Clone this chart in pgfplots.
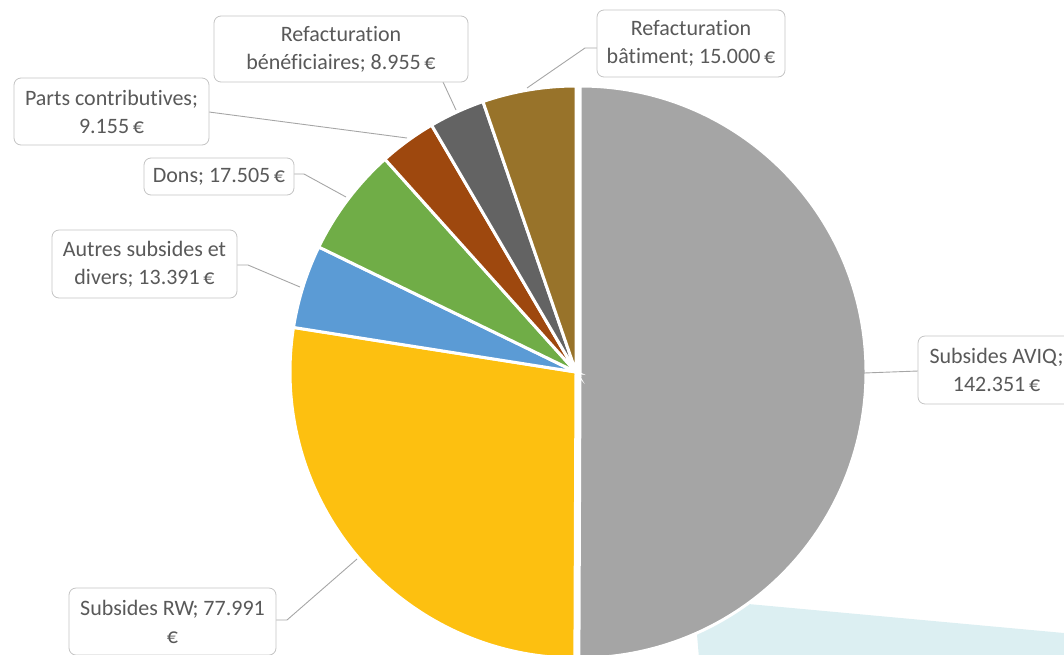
\documentclass[border=0pt]{standalone}
\usepackage{fontspec}
\setmainfont{Carlito}[Ligatures={NoCommon}]
\usepackage{pgfplots}
\usepackage{pgfplotstable}
\pgfplotsset{compat=1.18}

\definecolor{cAVIQ}{HTML}{A5A5A5}
\definecolor{cRW}{HTML}{FDC010}
\definecolor{cAutres}{HTML}{5B9BD5}
\definecolor{cDons}{HTML}{70AD47}
\definecolor{cParts}{HTML}{9E480E}
\definecolor{cRefBen}{HTML}{636363}
\definecolor{cRefBat}{HTML}{98732A}
\definecolor{txtc}{HTML}{595959}
\definecolor{boxc}{HTML}{C4C4C4}
\definecolor{leadc}{HTML}{A6A6A6}
\definecolor{decor}{HTML}{DCEFF2}

% values in thousands of euros, clockwise from 12 o'clock
\pgfplotstableread{
name value
AVIQ 142.351
RW 77.991
Autres 13.391
Dons 17.505
Parts 9.155
RefBen 8.955
RefBat 15.000
}\piedata

\pgfplotstablegetelem{0}{value}\of\piedata \let\vA\pgfplotsretval
\pgfplotstablegetelem{1}{value}\of\piedata \let\vB\pgfplotsretval
\pgfplotstablegetelem{2}{value}\of\piedata \let\vC\pgfplotsretval
\pgfplotstablegetelem{3}{value}\of\piedata \let\vD\pgfplotsretval
\pgfplotstablegetelem{4}{value}\of\piedata \let\vE\pgfplotsretval
\pgfplotstablegetelem{5}{value}\of\piedata \let\vF\pgfplotsretval
\pgfplotstablegetelem{6}{value}\of\piedata \let\vG\pgfplotsretval
\pgfmathsetmacro\tot{\vA+\vB+\vC+\vD+\vE+\vF+\vG}
\pgfmathsetmacro\aA{90}
\pgfmathsetmacro\aB{\aA-\vA/\tot*360}
\pgfmathsetmacro\aC{\aB-\vB/\tot*360}
\pgfmathsetmacro\aD{\aC-\vC/\tot*360}
\pgfmathsetmacro\aE{\aD-\vD/\tot*360}
\pgfmathsetmacro\aF{\aE-\vE/\tot*360}
\pgfmathsetmacro\aG{\aF-\vF/\tot*360}
\pgfmathsetmacro\aH{\aG-\vG/\tot*360}
\def\R{286pt}

\newcommand\lblfont{\fontsize{22}{28}\selectfont}
\tikzset{lbl/.style={draw=boxc, line width=0.8pt, fill=white, rounded corners=7pt,
  align=center, text=txtc, inner xsep=6pt, inner ysep=4pt, font=\lblfont}}

\begin{document}%
\begin{tikzpicture}
\useasboundingbox (0,0) rectangle (1064pt,654pt);
\begin{axis}[at={(0,0)}, anchor=south west, scale only axis,
  width=1064pt, height=654pt, xmin=0, xmax=1064, ymin=0, ymax=654,
  y dir=reverse, hide axis, clip=true]
\addplot[fill=decor, draw=none] coordinates {(694,599) (1064,633) (1064,670) (700,670)} -- cycle;
% slices
\filldraw[fill=cAVIQ, draw=white, line width=3pt] ([xshift=4pt]axis cs:576,372) -- ++(\aA:\R) arc[start angle=\aA, end angle=\aB, radius=\R] -- cycle;
\filldraw[fill=cRW, draw=white, line width=3pt] (axis cs:576,372) -- ++(\aB:\R) arc[start angle=\aB, end angle=\aC, radius=\R] -- cycle;
\filldraw[fill=cAutres, draw=white, line width=3pt] (axis cs:576,372) -- ++(\aC:\R) arc[start angle=\aC, end angle=\aD, radius=\R] -- cycle;
\filldraw[fill=cDons, draw=white, line width=3pt] (axis cs:576,372) -- ++(\aD:\R) arc[start angle=\aD, end angle=\aE, radius=\R] -- cycle;
\filldraw[fill=cParts, draw=white, line width=3pt] (axis cs:576,372) -- ++(\aE:\R) arc[start angle=\aE, end angle=\aF, radius=\R] -- cycle;
\filldraw[fill=cRefBen, draw=white, line width=3pt] (axis cs:576,372) -- ++(\aF:\R) arc[start angle=\aF, end angle=\aG, radius=\R] -- cycle;
\filldraw[fill=cRefBat, draw=white, line width=3pt] (axis cs:576,372) -- ++(\aG:\R) arc[start angle=\aG, end angle=\aH, radius=\R] -- cycle;
% leader lines
\draw[leadc, line width=0.9pt] (axis cs:527,88) -- (axis cs:585,48) -- (axis cs:597,48);
\draw[leadc, line width=0.9pt] (axis cs:443,82) -- (axis cs:456,110);
\draw[leadc, line width=0.9pt] (axis cs:209,112) -- (axis cs:407,138);
\draw[leadc, line width=0.9pt] (axis cs:294,174) -- (axis cs:304,174) -- (axis cs:346,197);
\draw[leadc, line width=0.9pt] (axis cs:237,265) -- (axis cs:248,265) -- (axis cs:300,287);
\draw[leadc, line width=0.9pt] (axis cs:864,373) -- (axis cs:918,371);
\draw[leadc, line width=0.9pt] (axis cs:276,620) -- (axis cs:287,620) -- (axis cs:357,559);
% labels
\node[lbl, minimum width=188pt, minimum height=67pt] at (axis cs:691,43.5) {Refacturation\\bâtiment; 15.000\,€};
\node[lbl, minimum width=254pt, minimum height=66pt] at (axis cs:341,49) {Refacturation\\bénéficiaires; 8.955\,€};
\node[lbl, minimum width=195pt, minimum height=67pt] at (axis cs:111.5,111.5) {Parts contributives;\\9.155\,€};
\node[lbl, minimum width=150pt, minimum height=37pt] at (axis cs:219,176.5) {Dons; 17.505\,€};
\node[lbl, minimum width=185pt, minimum height=68pt] at (axis cs:144.5,264) {Autres subsides et\\divers; 13.391\,€};
\node[lbl, minimum width=157pt, minimum height=68pt] at (axis cs:996.5,370) {Subsides AVIQ;\\142.351\,€};
\node[lbl, minimum width=207pt, minimum height=67pt] at (axis cs:172.5,621.5) {Subsides RW; 77.991\\€};
\end{axis}
\end{tikzpicture}%
\end{document}
